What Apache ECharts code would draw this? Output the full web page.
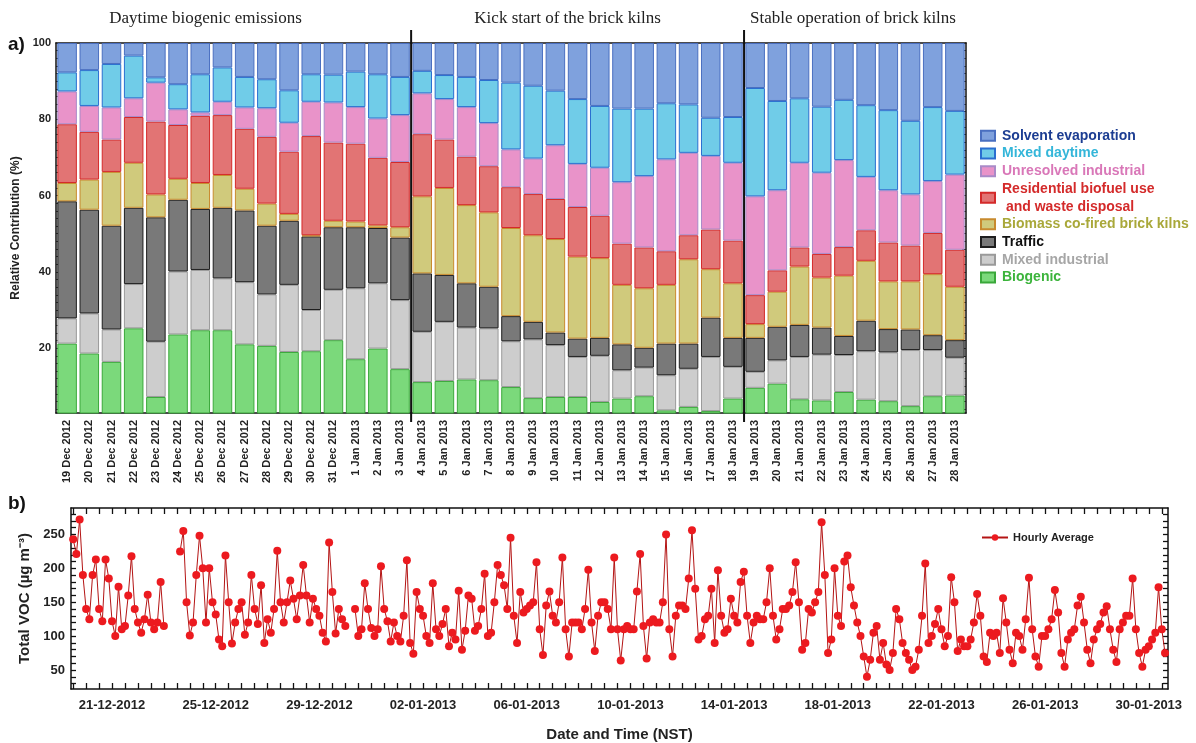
<!DOCTYPE html>
<html>
<head>
<meta charset="utf-8">
<script src="https://cdn.jsdelivr.net/npm/echarts@6/dist/echarts.min.js"></script>
<style>
html,body{margin:0;padding:0;background:#fff;}
#chart{width:1196px;height:743px;}
</style>
</head>
<body>
<div id="chart"></div>
<script>
// ---------- Panel a) data: relative contribution (%) per day ----------
const categories = ['19 Dec 2012','20 Dec 2012','21 Dec 2012','22 Dec 2012','23 Dec 2012','24 Dec 2012','25 Dec 2012','26 Dec 2012','27 Dec 2012','28 Dec 2012','29 Dec 2012','30 Dec 2012','31 Dec 2012','1 Jan 2013','2 Jan 2013','3 Jan 2013',
  '4 Jan 2013','5 Jan 2013','6 Jan 2013','7 Jan 2013','8 Jan 2013','9 Jan 2013','10 Jan 2013','11 Jan 2013','12 Jan 2013','13 Jan 2013','14 Jan 2013','15 Jan 2013','16 Jan 2013','17 Jan 2013','18 Jan 2013',
  '19 Jan 2013','20 Jan 2013','21 Jan 2013','22 Jan 2013','23 Jan 2013','24 Jan 2013','25 Jan 2013','26 Jan 2013','27 Jan 2013','28 Jan 2013'];

const biogenic = [21.2,18.6,16.4,25.2,7.2,23.6,24.7,24.7,21.0,20.6,19.0,19.2,22.1,17.1,19.9,14.5,
  11.1,11.4,11.8,11.6,9.8,6.9,7.2,7.2,5.9,6.8,7.4,3.7,4.6,3.5,6.8,
  9.6,10.7,6.6,6.3,8.5,6.5,6.1,4.8,7.4,7.6];
const mixedIndustrial = [6.6,10.5,8.5,11.6,14.5,16.5,15.8,13.6,16.3,13.5,17.6,10.8,13.2,18.6,17.1,18.1,
  13.2,15.5,13.6,13.6,12.0,15.4,13.6,10.5,12.1,7.4,7.5,9.2,10.0,14.2,8.3,
  4.2,6.1,11.1,12.0,9.7,12.7,12.8,14.7,12.1,9.9];
const traffic = [30.7,27.2,27.2,20.0,32.6,18.8,16.0,18.5,18.8,18.0,16.8,19.3,16.4,16.0,14.5,16.4,
  15.3,12.3,11.6,10.9,6.6,4.6,3.3,4.8,4.7,6.8,5.2,8.3,6.6,10.3,7.6,
  8.9,8.8,8.4,7.1,5.0,8.0,6.1,5.4,3.9,4.6];
const biomass = [4.8,7.9,14.1,11.8,6.0,5.5,6.8,8.6,5.7,5.8,1.8,0.3,1.7,1.5,0.7,2.7,
  20.2,22.8,20.5,19.5,23.1,22.7,24.5,21.5,20.9,15.6,15.6,15.4,22.1,12.7,14.3,
  3.6,9.2,15.3,13.1,15.8,15.7,12.5,12.6,16.0,14.0];
const residential = [15.4,12.5,8.5,12.0,19.1,14.1,17.6,15.7,15.7,17.5,16.3,26.0,20.5,20.4,17.7,17.1,
  16.3,12.7,12.7,12.1,10.7,10.8,10.5,13.0,11.1,10.8,10.7,8.8,6.3,10.4,11.2,
  7.6,5.6,5.0,6.2,7.5,8.0,10.2,9.4,10.8,9.7];
const unresolved = [8.6,6.8,8.4,4.9,10.2,4.1,0.9,3.5,5.6,7.5,7.6,9.0,10.5,9.6,10.3,12.3,
  10.7,10.6,13.0,11.3,9.9,9.3,14.1,11.3,12.6,16.1,18.7,24.1,21.6,19.3,20.4,
  25.9,21.0,22.2,21.3,22.8,14.0,13.7,13.4,13.6,19.7];
const mixedDaytime = [5.0,9.4,11.4,11.2,1.4,6.6,10.0,9.0,8.0,7.6,8.5,7.2,7.3,9.3,11.6,10.0,
  5.9,6.3,7.9,11.3,17.5,19.1,14.3,17.0,16.2,19.3,17.7,14.7,12.7,10.0,12.0,
  28.4,23.4,16.9,17.3,15.8,18.8,21.0,19.3,19.4,16.7];
const solvent = [7.7,7.1,5.5,3.3,9.0,10.8,8.2,6.4,8.9,9.5,12.4,8.2,8.3,7.5,8.2,8.9,
  7.3,8.4,8.9,9.7,10.4,11.2,12.5,14.7,16.5,17.2,17.2,15.8,16.1,19.6,19.4,
  11.8,15.2,14.5,16.7,14.9,16.3,17.6,20.4,16.8,17.8];

const sectionTitles = ['Daytime biogenic emissions','Kick start of the brick kilns','Stable operation of brick kilns'];
const sectionBreaks = [16, 31]; // first category index of sections 2 and 3
const yTicksA = [20,40,60,80,100];

// ---------- Panel b) data: hourly total VOC (µg m-3), read every 3 h from 19 Dec 2012 12:00 ----------
const vocStart = '2012-12-19T12:00:00Z';
const vocStepHours = 3;
const vocValues = [
  243,221,272,190,                       // 19 Dec (12h-21h)
  140,125,190,213,140,122,213,185,       // 20 Dec
  122,100,173,110,115,160,218,140,       // 21 Dec
  120,105,125,161,120,110,120,180,       // 22 Dec
  115,null,null,null,null,225,255,150,   // 23 Dec
  101,120,190,248,200,120,200,150,       // 24 Dec
  132,95,85,219,150,89,120,140,          // 25 Dec
  150,102,120,190,140,118,175,90,        // 26 Dec
  125,105,140,226,150,120,150,182,       // 27 Dec
  155,125,160,205,160,120,155,140,       // 28 Dec
  130,105,92,238,165,104,140,125,        // 29 Dec
  115,null,null,140,100,110,178,140,     // 30 Dec
  112,100,110,203,140,122,92,120,        // 31 Dec
  100,92,130,212,90,74,165,140,          // 1 Jan
  130,100,90,178,110,100,118,140,        // 2 Jan
  85,105,95,167,80,108,160,155,          // 3 Jan
  108,115,140,192,100,105,150,205,       // 4 Jan
  190,175,140,245,130,90,165,135,        // 5 Jan
  140,145,150,209,110,72,145,166,        // 6 Jan
  130,120,150,216,110,70,120,120,        // 7 Jan
  120,110,140,198,120,78,130,150,        // 8 Jan
  150,140,110,216,110,64,110,115,        // 9 Jan
  110,110,166,221,115,67,120,125,        // 10 Jan
  120,120,150,250,110,70,130,145,        // 11 Jan
  145,140,185,256,170,95,100,125,        // 12 Jan
  130,170,90,197,130,105,110,155,        // 13 Jan
  130,120,180,195,130,90,120,130,        // 14 Jan
  125,125,150,200,130,95,110,140,        // 15 Jan
  140,145,165,209,150,80,90,140,         // 16 Jan
  135,150,165,268,190,75,95,200,         // 17 Jan
  130,115,210,219,172,145,120,100,       // 18 Jan
  70,40,65,105,115,65,90,58,             // 19 Jan
  50,75,140,125,90,75,65,50,             // 20 Jan
  55,80,130,207,90,100,118,140,          // 21 Jan
  110,85,100,187,150,78,95,85,           // 22 Jan
  85,95,120,162,130,70,62,105,           // 23 Jan
  100,105,75,156,120,80,60,105,          // 24 Jan
  100,80,125,186,110,70,55,100,          // 25 Jan
  100,110,125,168,135,75,55,95,          // 26 Jan
  105,110,145,158,120,80,60,95,          // 27 Jan
  110,118,135,144,110,80,62,110,         // 28 Jan
  120,130,130,185,110,75,55,80,          // 29 Jan
  85,95,105,172,110,75                   // 30 Jan
];
const dateLabelDays = ['2012-12-21','2012-12-25','2012-12-29','2013-01-02','2013-01-06','2013-01-10','2013-01-14','2013-01-18','2013-01-22','2013-01-26','2013-01-30'];
const yTicksB = [50,100,150,200,250];
const xRangeB = ['2012-12-19T10:00:00Z','2013-01-30T17:45:00Z'];
const yRangeB = [22, 289];

// ---------- build ----------
const SANS = 'Liberation Sans';
const HOUR = 3600e3;
const t0 = Date.parse(vocStart);
const vocData = vocValues.map((v, i) => [t0 + i * vocStepHours * HOUR, v]);
const xMinB = Date.parse(xRangeB[0]), xMaxB = Date.parse(xRangeB[1]);
const labelTimes = dateLabelDays.map(d => Date.parse(d + 'T00:00:00Z'));
const tickTimes = [];
for (let t = Date.parse('2012-12-19T12:00:00Z'); t <= xMaxB; t += 12 * HOUR) tickTimes.push(t);
const ticksA = []; for (let v = 4; v <= 100; v += 2) ticksA.push(v);
const ticksB = []; for (let v = 30; v <= 280; v += 10) ticksB.push(v);
const pad = n => (n < 10 ? '0' : '') + n;
const fmtDate = v => { const d = new Date(v); return pad(d.getUTCDate()) + '-' + pad(d.getUTCMonth() + 1) + '-' + d.getUTCFullYear(); };

const comps = [
  {name:'Biogenic', data:biogenic, fill:'#7bd97b', border:'#3aa83a', text:'#3cb43c'},
  {name:'Mixed industrial', data:mixedIndustrial, fill:'#cdcdcd', border:'#9a9a9a', text:'#a6a6a6'},
  {name:'Traffic', data:traffic, fill:'#797979', border:'#1e1e1e', text:'#111111'},
  {name:'Biomass co-fired brick kilns', data:biomass, fill:'#d0ca7c', border:'#c88a2e', text:'#a9a83a'},
  {name:'Residential biofuel use and waste disposal', data:residential, fill:'#e27474', border:'#d42a2a', text:'#d42a2a'},
  {name:'Unresolved industrial', data:unresolved, fill:'#e993c9', border:'#a98ac8', text:'#d977b8'},
  {name:'Mixed daytime', data:mixedDaytime, fill:'#70cce8', border:'#2a6fd0', text:'#34b6d9'},
  {name:'Solvent evaporation', data:solvent, fill:'#7fa1dd', border:'#4a6fc0', text:'#1c3d92'}
];

const axisLineStyle = {color:'#111', width:1.5};
const barSeries = comps.map(c => ({
  name:c.name, type:'bar', stack:'total', xAxisIndex:0, yAxisIndex:0,
  data:c.data, barCategoryGap:'12%',
  itemStyle:{color:c.fill, borderColor:c.border, borderWidth:1}
}));

const chart = echarts.init(document.getElementById('chart'), null, {renderer:'canvas'});
const option = {
  animation:false,
  backgroundColor:'#fff',
  textStyle:{fontFamily:SANS},
  grid:[
    {left:56, right:230, top:43, height:370},
    {left:71, right:28, top:508, height:185}
  ],
  legend:[
    {
      orient:'vertical', left:975, top:122, itemWidth:14, itemHeight:10, itemGap:0, icon:'rect',
      data:comps.slice().reverse().map(c => ({name:c.name, textStyle:{color:c.text}})),
      formatter:n => n === 'Residential biofuel use and waste disposal' ? 'Residential biofuel use\n and waste disposal' : n,
      textStyle:{fontSize:14, fontWeight:'bold', fontFamily:SANS, lineHeight:17.7, padding:[0,0,0,2]}
    },
    {
      left:976, top:527, itemWidth:26, itemHeight:8,
      data:['Hourly Average'],
      textStyle:{fontSize:11, fontWeight:'bold', fontFamily:SANS, color:'#222'}
    }
  ],
  xAxis:[
    {type:'category', gridIndex:0, data:categories, position:'bottom',
      axisLine:{lineStyle:axisLineStyle},
      axisTick:{inside:true, length:5, lineStyle:{color:'#1a4a1a'}},
      axisLabel:{rotate:90, interval:0, fontSize:11, fontWeight:'bold', color:'#222', margin:7, fontFamily:SANS}},
    {type:'category', gridIndex:0, data:categories, position:'top',
      axisLine:{lineStyle:axisLineStyle},
      axisTick:{inside:true, length:5, lineStyle:{color:'#222'}},
      axisLabel:{show:false}},
    {type:'value', gridIndex:1, min:xMinB, max:xMaxB, position:'bottom', scale:true,
      splitLine:{show:false},
      axisLine:{lineStyle:axisLineStyle},
      axisTick:{inside:true, length:6, customValues:tickTimes, lineStyle:{color:'#111', width:1.3}},
      axisLabel:{customValues:labelTimes, formatter:fmtDate, fontSize:13, fontWeight:'bold', color:'#222', margin:10, fontFamily:SANS},
      name:'Date and Time (NST)', nameLocation:'middle', nameGap:38,
      nameTextStyle:{fontSize:15, fontWeight:'bold', color:'#222', fontFamily:SANS}},
    {type:'value', gridIndex:1, min:xMinB, max:xMaxB, position:'top', scale:true,
      splitLine:{show:false},
      axisLine:{lineStyle:axisLineStyle},
      axisTick:{inside:true, length:6, customValues:tickTimes, lineStyle:{color:'#111', width:1.3}},
      axisLabel:{show:false}}
  ],
  yAxis:[
    {type:'value', gridIndex:0, min:3, max:100, position:'left',
      splitLine:{show:false},
      axisLine:{show:true, lineStyle:axisLineStyle},
      axisTick:{show:true, inside:true, length:4, customValues:ticksA, lineStyle:{color:'#222'}},
      axisLabel:{customValues:yTicksA, fontSize:11, fontWeight:'bold', color:'#222', margin:5, fontFamily:SANS},
      name:'Relative Contribution (%)', nameLocation:'middle', nameGap:30, nameRotate:90,
      nameTextStyle:{fontSize:12, fontWeight:'bold', color:'#222', fontFamily:SANS}},
    {type:'value', gridIndex:0, min:3, max:100, position:'right',
      splitLine:{show:false},
      axisLine:{show:true, lineStyle:axisLineStyle},
      axisTick:{show:true, inside:true, length:4, customValues:ticksA, lineStyle:{color:'#222'}},
      axisLabel:{show:false}},
    {type:'value', gridIndex:1, min:yRangeB[0], max:yRangeB[1], position:'left',
      splitLine:{show:false},
      axisLine:{show:true, lineStyle:axisLineStyle},
      axisTick:{show:true, inside:true, length:5, customValues:ticksB, lineStyle:{color:'#111', width:1.3}},
      axisLabel:{customValues:yTicksB, fontSize:13, fontWeight:'bold', color:'#222', margin:6, fontFamily:SANS},
      name:'Total VOC (µg m⁻³)', nameLocation:'middle', nameGap:38, nameRotate:90,
      nameTextStyle:{fontSize:15, fontWeight:'bold', color:'#222', fontFamily:SANS}},
    {type:'value', gridIndex:1, min:yRangeB[0], max:yRangeB[1], position:'right',
      splitLine:{show:false},
      axisLine:{show:true, lineStyle:axisLineStyle},
      axisTick:{show:true, inside:true, length:5, customValues:ticksB, lineStyle:{color:'#111', width:1.3}},
      axisLabel:{show:false}}
  ],
  series:barSeries.concat([{
    name:'Hourly Average', type:'line', xAxisIndex:2, yAxisIndex:2,
    data:vocData, connectNulls:false, symbol:'circle', symbolSize:8, showAllSymbol:true,
    itemStyle:{color:'#ec1a1f'},
    lineStyle:{color:'#b41414', width:1}
  }])
};
chart.setOption(option);

// separators and section titles positioned through the category axis
const px = name => chart.convertToPixel({xAxisIndex:0}, name);
const bounds = sectionBreaks.map(i => (px(categories[i - 1]) + px(categories[i])) / 2);
const leftEdge = px(categories[0]) - (px(categories[1]) - px(categories[0])) / 2;
const rightEdge = px(categories[categories.length - 1]) + (px(categories[1]) - px(categories[0])) / 2;
const edges = [leftEdge].concat(bounds, [rightEdge]);
const titleShift = [-28, -10, -2];
const graphics = [];
bounds.forEach(b => graphics.push({type:'line', shape:{x1:b, y1:30, x2:b, y2:422}, style:{stroke:'#111', lineWidth:2}, z:100}));
sectionTitles.forEach((t, k) => graphics.push({type:'text', x:(edges[k] + edges[k + 1]) / 2 + titleShift[k], y:19,
  style:{text:t, font:'17px "Liberation Serif"', fill:'#222', textAlign:'center', textVerticalAlign:'middle'}}));
graphics.push({type:'text', x:8, y:45, style:{text:'a)', font:'bold 19px "Liberation Sans"', fill:'#111', textVerticalAlign:'middle'}});
graphics.push({type:'text', x:8, y:504, style:{text:'b)', font:'bold 19px "Liberation Sans"', fill:'#111', textVerticalAlign:'middle'}});
chart.setOption({graphic:graphics});
</script>
</body>
</html>
